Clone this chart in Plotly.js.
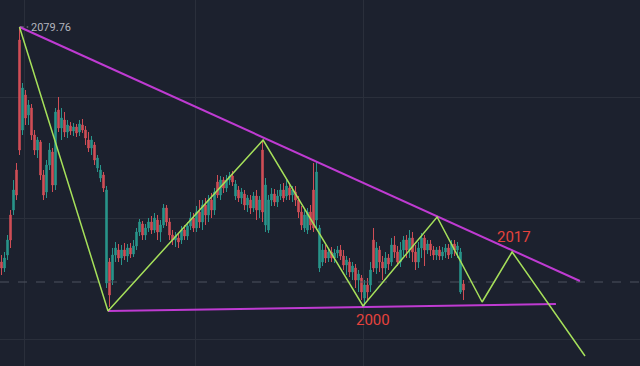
<!DOCTYPE html>
<html>
<head>
<meta charset="utf-8">
<script src="https://cdn.plot.ly/plotly-3.0.1.min.js"></script>
<style>html,body{margin:0;padding:0;background:#1c212e;}#chart{width:640px;height:366px;}</style>
</head>
<body>
<div id="chart"></div>
<script>
// Candle OHLC values (index 0..154)
const openP = [
1140,1116,1168,1328,1348,1508,2028,1668,1808,1728,
1756,1648,1588,1620,1488,1420,1528,1580,1448,1748,
1676,1708,1660,1684,1664,1680,1660,1688,1668,1628,
1596,1608,1516,1476,1488,1056,1140,1068,1168,1188,
1156,1188,1164,1196,1172,1204,1260,1292,1248,1276,
1300,1268,1308,1260,1288,1356,1300,1248,1228,1236,
1228,1268,1244,1284,1316,1276,1340,1300,1368,1328,
1388,1348,1460,1408,1468,1436,1468,1484,1404,1428,
1396,1412,1368,1388,1356,1404,1348,1588,1288,1268,
1388,1412,1380,1404,1428,1404,1436,1408,1420,1388,
1340,1276,1268,1340,1428,1308,1116,1140,1188,1156,
1180,1156,1176,1188,1164,1128,1140,1100,1116,1068,
1076,996,1048,1048,1228,1116,1188,1140,1116,1156,
1140,1208,1180,1140,1188,1228,1188,1236,1180,1140,
1196,1236,1188,1212,1188,1168,1188,1164,1180,1196,
1172,1212,1188,1020,1052];
const highP = [
1168,1180,1248,1348,1468,1536,2079.76,1856,1828,1788,
1772,1668,1640,1628,1508,1548,1616,1596,1756,1800,
1756,1740,1708,1700,1696,1692,1708,1712,1684,1660,
1644,1620,1568,1528,1500,1444,1156,1196,1220,1212,
1208,1216,1212,1216,1228,1276,1312,1304,1292,1316,
1324,1336,1328,1308,1372,1368,1316,1268,1260,1256,
1284,1288,1300,1340,1336,1364,1388,1388,1396,1408,
1416,1436,1488,1484,1480,1488,1500,1504,1468,1444,
1436,1428,1408,1408,1420,1428,1404,1628,1476,1408,
1436,1432,1428,1452,1456,1468,1456,1444,1444,1404,
1364,1348,1356,1368,1536,1540,1288,1212,1208,1196,
1200,1192,1204,1208,1188,1164,1156,1140,1132,1108,
1088,1068,1076,1140,1276,1220,1204,1164,1180,1172,
1236,1244,1204,1220,1244,1248,1268,1260,1208,1220,
1256,1248,1228,1228,1204,1200,1204,1200,1212,1212,
1228,1228,1220,1196,1068];
const lowP = [
1088,1100,1148,1196,1328,1388,1568,1648,1688,1688,
1628,1568,1556,1468,1388,1396,1508,1420,1428,1660,
1628,1640,1636,1648,1644,1640,1644,1656,1608,1580,
1568,1528,1500,1460,1420,1036,960,1048,1140,1140,
1128,1148,1140,1156,1160,1188,1244,1228,1228,1260,
1252,1256,1228,1220,1276,1284,1228,1208,1200,1196,
1212,1228,1228,1268,1260,1260,1276,1268,1288,1300,
1316,1328,1396,1388,1416,1420,1448,1444,1388,1380,
1372,1348,1340,1332,1340,1308,1316,1300,1260,1256,
1364,1364,1360,1388,1380,1388,1388,1380,1364,1316,
1268,1260,1252,1268,1260,1268,1100,1124,1136,1140,
1140,1136,1156,1148,1108,1088,1080,1068,1036,1020,
988,964,988,1020,1100,1092,1100,1068,1092,1108,
1124,1156,1124,1120,1164,1156,1156,1140,1108,1116,
1156,1124,1172,1164,1148,1148,1148,1148,1156,1152,
1156,1164,1156,1012,988];
const closeP = [
1116,1156,1228,1228,1428,1408,1588,1836,1716,1768,
1648,1588,1628,1488,1408,1528,1588,1448,1740,1676,
1716,1660,1688,1664,1680,1656,1692,1668,1636,1596,
1628,1548,1556,1508,1436,1428,1008,1168,1196,1156,
1188,1164,1196,1172,1204,1260,1300,1248,1276,1300,
1268,1316,1260,1288,1356,1300,1248,1228,1244,1220,
1268,1244,1284,1316,1276,1340,1300,1368,1328,1388,
1348,1420,1408,1468,1436,1468,1484,1460,1452,1396,
1420,1368,1396,1356,1404,1348,1388,1340,1448,1388,
1412,1380,1404,1428,1396,1444,1408,1428,1388,1340,
1288,1328,1340,1288,1276,1500,1276,1188,1156,1180,
1156,1176,1188,1164,1128,1148,1100,1124,1068,1092,
1020,1048,1020,1108,1116,1196,1140,1116,1156,1132,
1208,1180,1140,1188,1228,1188,1236,1180,1140,1196,
1236,1188,1212,1188,1168,1188,1164,1180,1196,1168,
1212,1188,1204,1180,1028];
const idx = openP.map((_, i) => i);

// Drawn pattern lines (x in bar index, y in price)
const zigX = [6, 35.5, 87.2, 120.5, 145.2, 160.2, 170.2, 194.5];
const zigY = [2080, 944, 1628, 964, 1320, 980, 1180, 764];
const upperX = [6, 192.8];
const upperY = [2080, 1064];
const lowerX = [35.5, 184.8];
const lowerY = [944, 972];
const lastPriceX = [-0.5, 212.83];
const lastPriceY = [1060, 1060];
const highMarkX = [6.4, 8.9];
const highMarkY = [2080, 2080];

const labels = [
  {text: '2079.76', x: 9.0, y: 2080, color: '#b2b5be', size: 11, anchor: 'left'},
  {text: '2017', x: 170.8, y: 1240, color: '#e5433d', size: 15, anchor: 'center'},
  {text: '2000', x: 123.8, y: 908, color: '#e5433d', size: 15, anchor: 'center'}
];
const gridY = [1800, 1316, 832];
const gridX = [7.83, 64.5, 120.5];

const bg = '#1c212e';
const traces = [
  {type: 'scatter', mode: 'lines', x: lastPriceX, y: lastPriceY,
   line: {color: '#4d525e', width: 1, dash: 'dash'}, hoverinfo: 'skip'},
  {type: 'candlestick', x: idx, open: openP, high: highP, low: lowP, close: closeP,
   increasing: {line: {color: '#2a9f93', width: 1}, fillcolor: '#2a9f93'},
   decreasing: {line: {color: '#e0525a', width: 1}, fillcolor: '#e0525a'},
   whiskerwidth: 0, opacity: 0.92, hoverinfo: 'skip'},
  {type: 'scatter', mode: 'lines', x: highMarkX, y: highMarkY,
   line: {color: '#8a8e99', width: 1, dash: 'dot'}, hoverinfo: 'skip'},
  {type: 'scatter', mode: 'lines', x: upperX, y: upperY,
   line: {color: '#bf3bd2', width: 2}, hoverinfo: 'skip'},
  {type: 'scatter', mode: 'lines', x: lowerX, y: lowerY,
   line: {color: '#bf3bd2', width: 2}, hoverinfo: 'skip'},
  {type: 'scatter', mode: 'lines', x: zigX, y: zigY,
   line: {color: '#a6e05a', width: 1.5}, hoverinfo: 'skip'}
];

const layout = {
  width: 640, height: 366,
  margin: {l: 0, r: 0, t: 0, b: 0},
  paper_bgcolor: bg, plot_bgcolor: bg,
  showlegend: false,
  xaxis: {range: [-0.5, 212.83], rangeslider: {visible: false}, showticklabels: false,
          tickvals: gridX, showgrid: true, gridcolor: '#2a2f3b', gridwidth: 1,
          zeroline: false, showline: false, ticks: ''},
  yaxis: {range: [724, 2188], showticklabels: false, tickvals: gridY,
          showgrid: true, gridcolor: '#2a2f3b', gridwidth: 1,
          zeroline: false, showline: false, ticks: ''},
  annotations: labels.map(l => ({
    text: l.text, x: l.x, y: l.y, xref: 'x', yref: 'y', showarrow: false,
    xanchor: l.anchor, yanchor: 'middle',
    font: {family: 'Roboto, Arial, sans-serif', size: l.size, color: l.color}
  }))
};

Plotly.newPlot('chart', traces, layout, {staticPlot: true, displayModeBar: false});
</script>
</body>
</html>
